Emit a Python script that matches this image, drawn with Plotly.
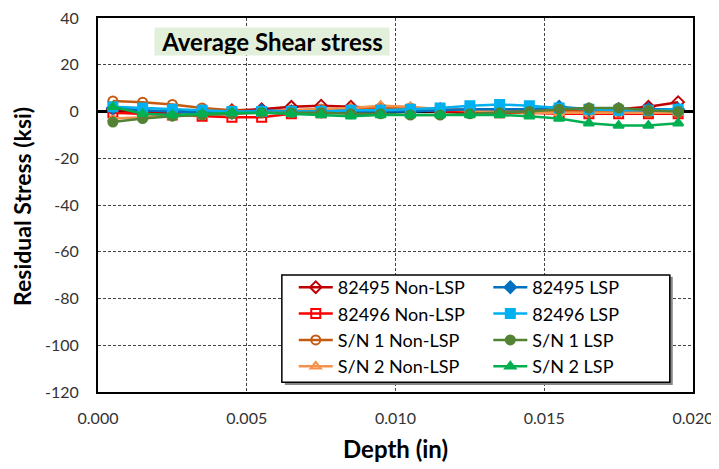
import plotly.graph_objects as go

depth = [0.0005, 0.0015, 0.0025, 0.0035, 0.0045, 0.0055, 0.0065, 0.0075, 0.0085, 0.0095,
         0.0105, 0.0115, 0.0125, 0.0135, 0.0145, 0.0155, 0.0165, 0.0175, 0.0185, 0.0195]

s82495_non = [1.0, -0.5, -0.5, 0.0, 0.5, 1.0, 2.0, 2.5, 2.0, 1.5, 1.0, 1.0, 0.5, 0.5, 0.5, 0.5, 0.5, 1.0, 2.0, 4.0]
s82496_non = [-0.5, -1.0, -1.5, -2.0, -2.5, -2.5, -1.0, -0.5, 0.0, 0.5, 0.5, 0.0, 0.0, -0.5, -0.5, -1.0, -1.0, -1.0, -1.0, -1.0]
sn1_non = [4.5, 4.0, 3.0, 1.5, 0.5, 0.0, 0.5, 1.0, 1.0, 1.5, 1.5, 1.0, 0.5, 0.5, 0.5, 0.0, 0.0, 0.0, -0.5, -0.5]
sn2_non = [-3.0, -2.5, -2.0, -1.5, -1.0, 0.0, 0.5, 1.0, 1.5, 2.5, 2.0, 1.0, 0.5, 0.0, -0.5, -0.5, -0.5, -0.5, -0.5, -0.5]
s82495_lsp = [1.5, 0.5, 0.0, -0.5, -0.5, 0.5, 0.0, 0.0, 0.0, 0.0, 0.0, 0.5, 1.0, 1.0, 1.0, 2.0, 1.0, 1.0, 1.0, 1.0]
s82496_lsp = [2.0, 1.5, 1.0, 0.5, 0.0, 0.0, 0.0, 0.0, 0.5, 0.5, 1.0, 1.5, 2.5, 3.0, 2.5, 1.5, 1.0, 0.5, 0.5, 1.0]
sn1_lsp = [-4.5, -3.0, -2.0, -1.5, -1.0, -0.5, -0.5, -0.5, -1.0, -1.0, -1.5, -1.5, -1.0, -0.5, 0.0, 1.0, 1.5, 1.5, 0.5, 0.0]
sn2_lsp = [2.0, -1.0, -1.5, -1.0, -0.5, -0.5, -1.0, -1.5, -2.0, -1.5, -1.5, -1.5, -1.5, -1.5, -2.0, -3.0, -5.0, -6.0, -6.0, -5.0]

y_ticks = [40, 20, 0, -20, -40, -60, -80, -100, -120]
y_labels = ["40", "20", "0", "-20", "-40", "-60", "-80", "-100", "-120"]
x_ticks = [0.000, 0.005, 0.010, 0.015, 0.020]
x_labels = ["0.000", "0.005", "0.010", "0.015", "0.020"]

FONT = "Lato"

series = [
    ("82495 Non-LSP", s82495_non, "#C00000", "diamond-open", "legend"),
    ("82496 Non-LSP", s82496_non, "#FF0000", "square-open", "legend"),
    ("S/N 1 Non-LSP", sn1_non, "#C55A11", "circle-open", "legend"),
    ("S/N 2 Non-LSP", sn2_non, "#F4914A", "triangle-up-open", "legend"),
    ("82495 LSP", s82495_lsp, "#0070C0", "diamond", "legend2"),
    ("82496 LSP", s82496_lsp, "#00B0F0", "square", "legend2"),
    ("S/N 1 LSP", sn1_lsp, "#548235", "circle", "legend2"),
    ("S/N 2 LSP", sn2_lsp, "#00B050", "triangle-up", "legend2"),
]

fig = go.Figure()
for name, vals, col, sym, lg in series:
    fig.add_trace(go.Scatter(
        x=depth, y=vals, name=name, mode="lines+markers",
        line=dict(color=col, width=2.5),
        marker=dict(symbol=sym, size=9, color=col, line=dict(color=col, width=2)),
        legend=lg, legendgroup=name,
    ))

grid = dict(showgrid=True, gridcolor="#444444", griddash="3px,2px", gridwidth=1.3)
tickfont = dict(family=FONT, size=16, color="#333333")

fig.update_xaxes(range=[0, 0.02], tickvals=x_ticks, ticktext=x_labels,
                 showline=True, linecolor="black", linewidth=2, mirror=True,
                 zeroline=False, ticks="", tickfont=tickfont, ticklabelstandoff=11,
                 ticklabeloverflow="allow", automargin=False, **grid)
fig.update_yaxes(range=[-120, 40], tickvals=y_ticks, ticktext=y_labels,
                 showline=True, linecolor="black", linewidth=2, mirror=True,
                 zeroline=True, zerolinecolor="black", zerolinewidth=2.5,
                 ticks="", tickfont=tickfont, ticklabelstandoff=14,
                 ticklabeloverflow="allow", automargin=False, **grid)

legfont = dict(family=FONT, size=18, color="black")
fig.update_layout(
    width=711, height=461,
    margin=dict(l=90, r=26, t=10, b=77),
    plot_bgcolor="white", paper_bgcolor="white",
    showlegend=True,
    legend=dict(x=0.329, y=0.329, xanchor="left", yanchor="top", font=legfont,
                bgcolor="rgba(0,0,0,0)", borderwidth=0, tracegroupgap=0, itemwidth=34),
    legend2=dict(x=0.656, y=0.329, xanchor="left", yanchor="top", font=legfont,
                 bgcolor="rgba(0,0,0,0)", borderwidth=0, tracegroupgap=0, itemwidth=34),
    shapes=[
        dict(type="rect", xref="paper", yref="paper", x0=0.314, x1=0.966, y0=0.019, y1=0.308,
             fillcolor="#888888", line=dict(width=0), layer="above"),
        dict(type="rect", xref="paper", yref="paper", x0=0.309, x1=0.961, y0=0.0263, y1=0.313,
             fillcolor="white", line=dict(color="black", width=1.5), layer="above"),
    ],
    annotations=[
        dict(text="<b>Average Shear stress</b>", xref="paper", yref="paper",
             x=0.292, y=0.937, xanchor="center", yanchor="middle", showarrow=False,
             font=dict(family=FONT, size=24, color="black"),
             bgcolor="#E2EFDA", borderpad=1, width=232, height=25),
        dict(text="<b>Depth (in)</b>", xref="paper", yref="paper",
             x=0.5, y=-0.150, xanchor="center", yanchor="middle", showarrow=False,
             font=dict(family=FONT, size=24, color="black")),
        dict(text="<b>Residual Stress (ksi)</b>", xref="paper", yref="paper",
             x=-0.128, y=0.497, xanchor="center", yanchor="middle", showarrow=False,
             textangle=-90, font=dict(family=FONT, size=23, color="black")),
    ],
)

fig.write_html("out.html")
